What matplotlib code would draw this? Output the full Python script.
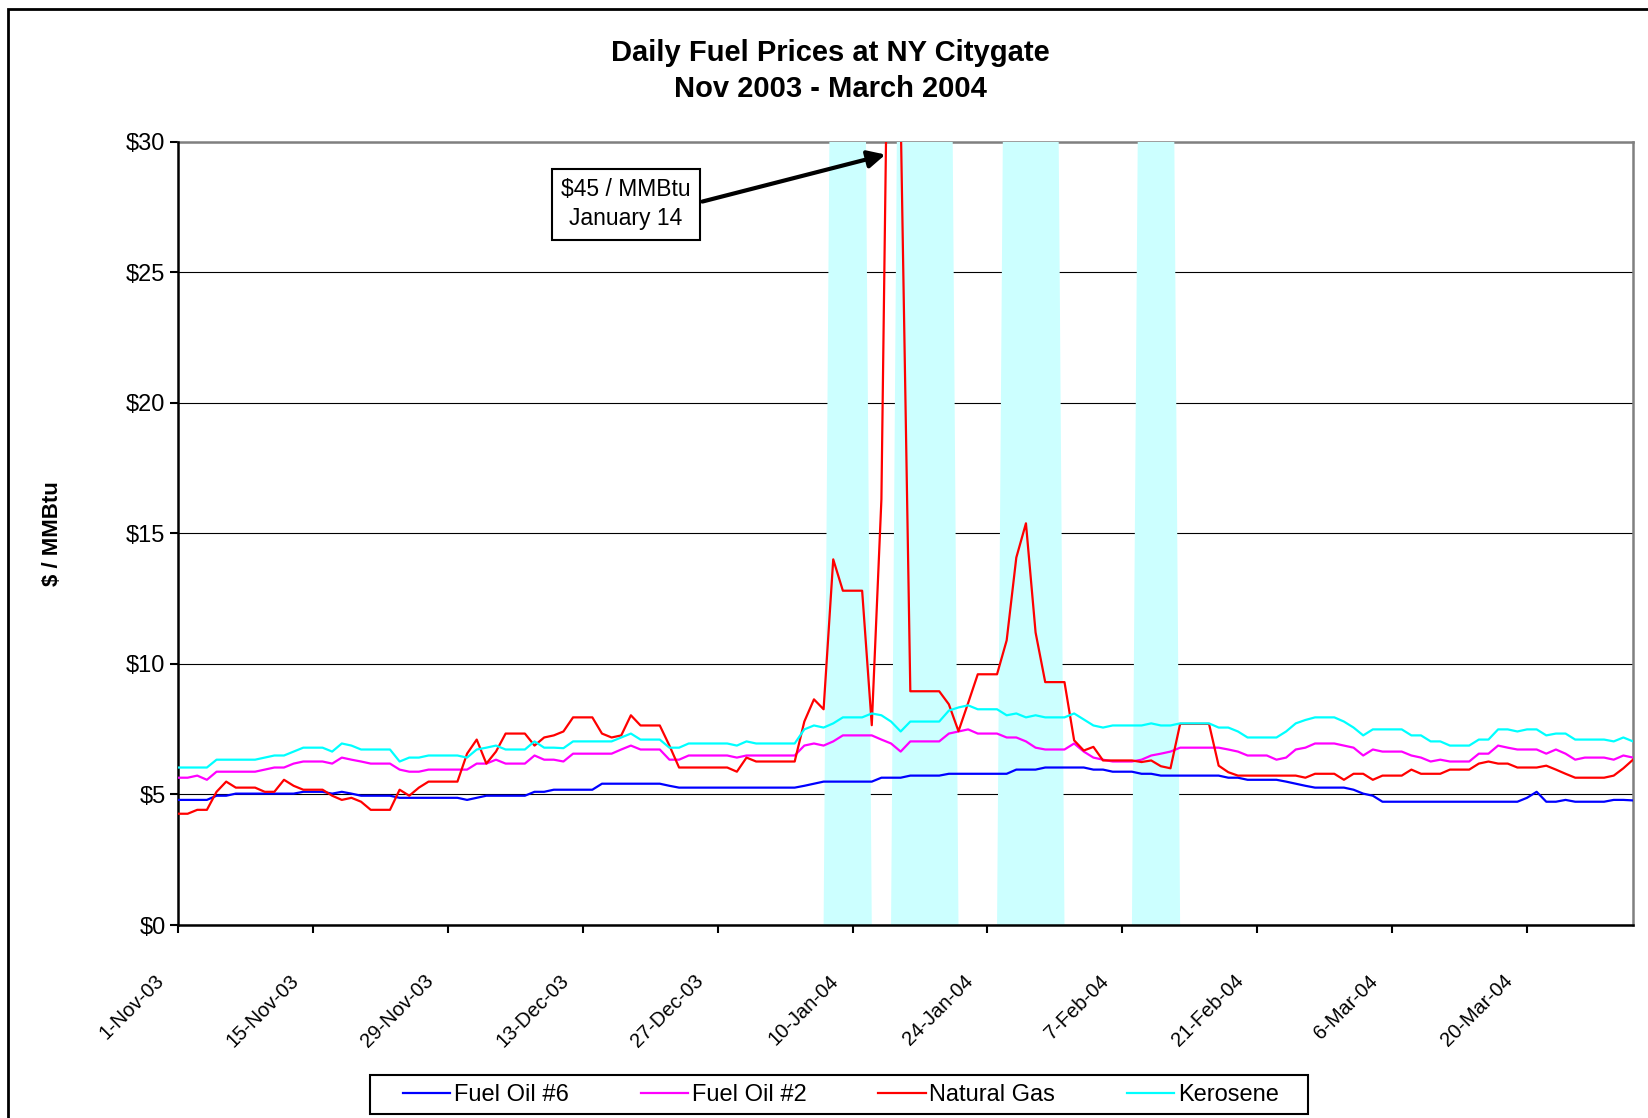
import matplotlib
matplotlib.use("Agg")
import matplotlib.pyplot as plt
import matplotlib.patches as patches
from matplotlib.transforms import ScaledTranslation
import numpy as np
import pandas as pd

plt.rcParams['font.family'] = ['Liberation Sans', 'DejaVu Sans']

# daily prices, 1-Nov-03 .. 31-Mar-04 ($/MMBtu)
dates = pd.date_range('2003-11-01', '2004-03-31', freq='D')

fuel_oil_6 = [
    4.79, 4.79, 4.79, 4.79, 4.95, 4.95, 5.03, 5.03, 5.03, 5.03,
    5.03, 5.03, 5.03, 5.10, 5.10, 5.10, 5.03, 5.10, 5.03, 4.95,
    4.95, 4.95, 4.95, 4.87, 4.87, 4.87, 4.87, 4.87, 4.87, 4.87,
    4.79, 4.87, 4.95, 4.95, 4.95, 4.95, 4.95, 5.10, 5.10, 5.18,
    5.18, 5.18, 5.18, 5.18, 5.41, 5.41, 5.41, 5.41, 5.41, 5.41,
    5.41, 5.33, 5.26, 5.26, 5.26, 5.26, 5.26, 5.26, 5.26, 5.26,
    5.26, 5.26, 5.26, 5.26, 5.26, 5.33, 5.41, 5.49, 5.49, 5.49,
    5.49, 5.49, 5.49, 5.64, 5.64, 5.64, 5.72, 5.72, 5.72, 5.72,
    5.79, 5.79, 5.79, 5.79, 5.79, 5.79, 5.79, 5.95, 5.95, 5.95,
    6.03, 6.03, 6.03, 6.03, 6.03, 5.95, 5.95, 5.87, 5.87, 5.87,
    5.79, 5.79, 5.72, 5.72, 5.72, 5.72, 5.72, 5.72, 5.72, 5.64,
    5.64, 5.56, 5.56, 5.56, 5.56, 5.49, 5.41, 5.33, 5.26, 5.26,
    5.26, 5.26, 5.18, 5.03, 4.95, 4.72, 4.72, 4.72, 4.72, 4.72,
    4.72, 4.72, 4.72, 4.72, 4.72, 4.72, 4.72, 4.72, 4.72, 4.72,
    4.87, 5.10, 4.72, 4.72, 4.79, 4.72, 4.72, 4.72, 4.72, 4.79,
    4.79, 4.77]

fuel_oil_2 = [
    5.64, 5.64, 5.72, 5.56, 5.87, 5.87, 5.87, 5.87, 5.87, 5.95,
    6.03, 6.03, 6.18, 6.26, 6.26, 6.26, 6.18, 6.41, 6.33, 6.26,
    6.18, 6.18, 6.18, 5.95, 5.87, 5.87, 5.95, 5.95, 5.95, 5.95,
    5.95, 6.18, 6.18, 6.33, 6.18, 6.18, 6.18, 6.49, 6.33, 6.33,
    6.26, 6.56, 6.56, 6.56, 6.56, 6.56, 6.72, 6.87, 6.72, 6.72,
    6.72, 6.33, 6.33, 6.49, 6.49, 6.49, 6.49, 6.49, 6.41, 6.49,
    6.49, 6.49, 6.49, 6.49, 6.49, 6.87, 6.95, 6.87, 7.03, 7.26,
    7.26, 7.26, 7.26, 7.10, 6.95, 6.64, 7.03, 7.03, 7.03, 7.03,
    7.33, 7.41, 7.49, 7.33, 7.33, 7.33, 7.18, 7.18, 7.03, 6.79,
    6.72, 6.72, 6.72, 6.95, 6.64, 6.41, 6.33, 6.26, 6.26, 6.26,
    6.33, 6.49, 6.56, 6.64, 6.79, 6.79, 6.79, 6.79, 6.79, 6.72,
    6.64, 6.49, 6.49, 6.49, 6.33, 6.41, 6.72, 6.79, 6.95, 6.95,
    6.95, 6.87, 6.79, 6.49, 6.72, 6.64, 6.64, 6.64, 6.49, 6.41,
    6.26, 6.33, 6.26, 6.26, 6.26, 6.56, 6.56, 6.87, 6.79, 6.72,
    6.72, 6.72, 6.56, 6.72, 6.56, 6.33, 6.41, 6.41, 6.41, 6.33,
    6.49, 6.41]

natural_gas = [
    4.26, 4.26, 4.41, 4.41, 5.10, 5.49, 5.26, 5.26, 5.26, 5.10,
    5.10, 5.56, 5.33, 5.18, 5.18, 5.18, 4.95, 4.79, 4.87, 4.72,
    4.41, 4.41, 4.41, 5.18, 4.95, 5.26, 5.49, 5.49, 5.49, 5.49,
    6.56, 7.10, 6.18, 6.64, 7.33, 7.33, 7.33, 6.87, 7.18, 7.26,
    7.41, 7.95, 7.95, 7.95, 7.33, 7.18, 7.26, 8.03, 7.64, 7.64,
    7.64, 6.87, 6.03, 6.03, 6.03, 6.03, 6.03, 6.03, 5.87, 6.41,
    6.26, 6.26, 6.26, 6.26, 6.26, 7.79, 8.64, 8.26, 14.00, 12.80,
    12.80, 12.80, 7.65, 16.30, 45.00, 31.00, 8.95, 8.95, 8.95, 8.95,
    8.45, 7.42, 8.50, 9.60, 9.60, 9.60, 10.90, 14.07, 15.38, 11.20,
    9.30, 9.30, 9.30, 7.07, 6.68, 6.82, 6.30, 6.30, 6.30, 6.30,
    6.24, 6.30, 6.08, 6.00, 7.70, 7.70, 7.70, 7.70, 6.10, 5.85,
    5.72, 5.72, 5.72, 5.72, 5.72, 5.72, 5.72, 5.64, 5.79, 5.79,
    5.79, 5.56, 5.79, 5.79, 5.56, 5.72, 5.72, 5.72, 5.95, 5.79,
    5.79, 5.79, 5.95, 5.95, 5.95, 6.18, 6.26, 6.18, 6.18, 6.03,
    6.03, 6.03, 6.10, 5.95, 5.79, 5.64, 5.64, 5.64, 5.64, 5.72,
    6.00, 6.33]

kerosene = [
    6.03, 6.03, 6.03, 6.03, 6.33, 6.33, 6.33, 6.33, 6.33, 6.41,
    6.49, 6.49, 6.64, 6.79, 6.79, 6.79, 6.64, 6.95, 6.87, 6.72,
    6.72, 6.72, 6.72, 6.26, 6.41, 6.41, 6.49, 6.49, 6.49, 6.49,
    6.41, 6.72, 6.79, 6.87, 6.72, 6.72, 6.72, 7.03, 6.79, 6.79,
    6.77, 7.03, 7.03, 7.03, 7.03, 7.03, 7.18, 7.33, 7.10, 7.10,
    7.10, 6.79, 6.79, 6.95, 6.95, 6.95, 6.95, 6.95, 6.87, 7.03,
    6.95, 6.95, 6.95, 6.95, 6.95, 7.49, 7.64, 7.56, 7.72, 7.95,
    7.95, 7.95, 8.10, 8.03, 7.79, 7.41, 7.79, 7.79, 7.79, 7.79,
    8.21, 8.33, 8.41, 8.26, 8.26, 8.26, 8.03, 8.10, 7.95, 8.03,
    7.95, 7.95, 7.95, 8.10, 7.87, 7.64, 7.56, 7.64, 7.64, 7.64,
    7.64, 7.72, 7.64, 7.64, 7.72, 7.72, 7.72, 7.72, 7.56, 7.56,
    7.41, 7.18, 7.18, 7.18, 7.18, 7.41, 7.72, 7.85, 7.95, 7.95,
    7.95, 7.79, 7.56, 7.26, 7.49, 7.49, 7.49, 7.49, 7.26, 7.26,
    7.03, 7.03, 6.87, 6.87, 6.87, 7.10, 7.10, 7.49, 7.49, 7.41,
    7.49, 7.49, 7.26, 7.33, 7.33, 7.10, 7.10, 7.10, 7.10, 7.03,
    7.18, 7.03]

# cold-weather periods (shaded area series, first/last full day)
cold_start = ['2004-01-08', '2004-01-15', '2004-01-26', '2004-02-09']
cold_end = ['2004-01-11', '2004-01-20', '2004-01-31', '2004-02-12']
cold_level = 50

series_names = ['Fuel Oil #6', 'Fuel Oil #2', 'Natural Gas', 'Kerosene']
series_colors = ['#0000FF', '#FF00FF', '#FF0000', '#00FFFF']

cold = pd.Series(0.0, index=dates)
for s, e in zip(cold_start, cold_end):
    cold[s:e] = cold_level

fig = plt.figure(figsize=(16.48, 11.18), dpi=100)
ax = fig.add_axes([178/1648, 1 - 925/1118, 1455/1648, 783.5/1118])

ax.fill_between(dates, 0, cold.values, color='#CCFFFF', lw=0, zorder=1)

for vals, name, col in zip([fuel_oil_6, fuel_oil_2, natural_gas, kerosene],
                           series_names, series_colors):
    ax.plot(dates, vals, color=col, lw=1.6, label=name, zorder=3)

ax.set_xlim(dates[0], dates[-1])
ax.set_ylim(0, 30)
ax.set_yticks(range(0, 31, 5))
ax.set_yticklabels(['$%d' % v for v in range(0, 31, 5)])
ticks = dates[::14]
ax.set_xticks(ticks)
ax.set_xticklabels([])
off = ScaledTranslation(-0.17, -0.53, fig.dpi_scale_trans)
for d in ticks:
    ax.text(d, 0, f"{d.day}-{d:%b-%y}", transform=ax.get_xaxis_transform() + off,
            rotation=45, ha='right', va='center', rotation_mode='anchor',
            fontsize=14.5)

ax.grid(axis='y', color='black', lw=0.8, zorder=0.5)
ax.set_axisbelow(True)
ax.tick_params(axis='both', labelsize=17, length=6, width=1.5, direction='out')
ax.tick_params(axis='y', pad=3)
for sp in ['left', 'bottom']:
    ax.spines[sp].set_linewidth(1.8)
    ax.spines[sp].set_color('black')
for sp in ['top', 'right']:
    ax.spines[sp].set_linewidth(1.8)
    ax.spines[sp].set_color('#808080')
ax.spines['top'].set_zorder(0.8)

ax.text(pd.Timestamp('2003-12-17 12:00'), 27.6, '$45 / MMBtu\nJanuary 14',
        ha='center', va='center', fontsize=16.5, linespacing=1.36, zorder=5,
        bbox=dict(boxstyle='square,pad=0.4', fc='white', ec='black', lw=1.5))
ax.annotate('', xy=(pd.Timestamp('2004-01-13 10:00'), 29.5),
            xytext=(pd.Timestamp('2003-12-25 10:00'), 27.7),
            arrowprops=dict(arrowstyle='-|>', lw=3, color='black',
                            mutation_scale=26, shrinkA=0, shrinkB=0),
            zorder=5)

fig.text(830/1648, 1 - 53/1118, 'Daily Fuel Prices at NY Citygate',
         ha='center', va='center', fontsize=21, fontweight='bold')
fig.text(830/1648, 1 - 89/1118, 'Nov 2003 - March 2004',
         ha='center', va='center', fontsize=21, fontweight='bold')
fig.text(53/1648, 1 - 534/1118, '$ / MMBtu', rotation=90,
         ha='center', va='center', fontsize=16, fontweight='bold')

leg = fig.legend(loc='center', bbox_to_anchor=(841/1648, 1 - 1095/1118),
                 ncol=4, fontsize=17, frameon=False,
                 handlelength=2.0, handletextpad=0.15, columnspacing=3.05,
                 borderpad=0.3)
for h in leg.get_lines():
    h.set_linewidth(1.6)
fig.patches.append(patches.Rectangle((370/1648, 1 - 1114/1118), 938/1648, 39/1118,
                                     transform=fig.transFigure, fill=False,
                                     ec='black', lw=1.5))

fig.patches.append(patches.Rectangle((8/1648, -0.05), 1.2, 1.05 - 9/1118,
                                     transform=fig.transFigure, fill=False,
                                     ec='black', lw=2))

fig.savefig('out.png', dpi=100)
